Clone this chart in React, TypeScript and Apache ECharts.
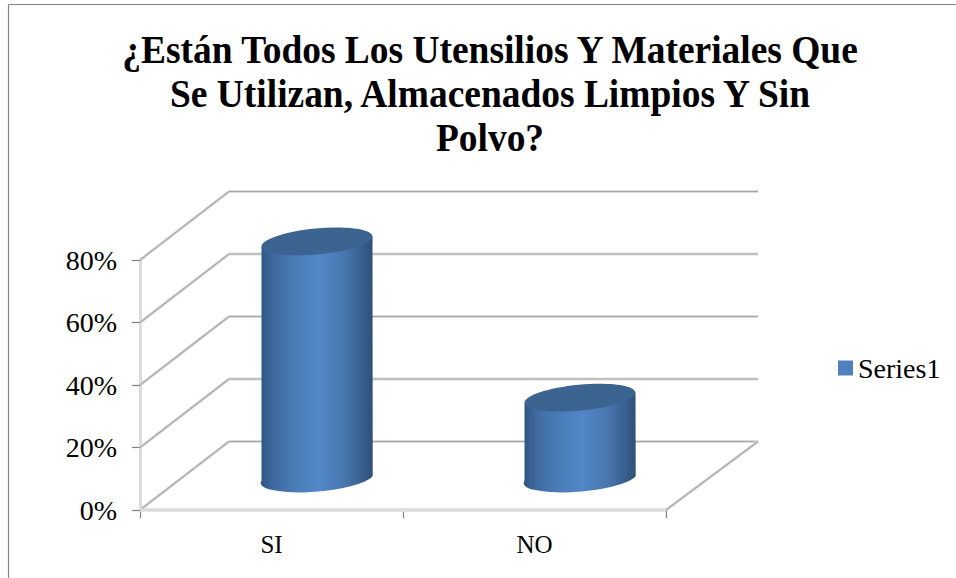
import React, { useEffect, useRef } from "react";
import * as echarts from "echarts";

const titleLines = ["¿Están Todos Los Utensilios Y Materiales Que", "Se Utilizan, Almacenados Limpios Y Sin", "Polvo?"];
const categories = ["SI", "NO"];
const seriesName = "Series1";
const seriesValues = [75, 25];
const yTicks = [0, 20, 40, 60, 80];

const DEPTH_LEFT = 89;
const DEPTH_RIGHT = 92;
const DEPTH_Y = 68.5;
const LIGHT = "#dcdcdc";
const DARK = "#a6a6a6";

function doubleLine(x1: number, y1: number, x2: number, y2: number) {
  const shape = { x1, y1, x2, y2 };
  return [
    { type: "line", shape, style: { stroke: LIGHT, lineWidth: 3, fill: null } },
    { type: "line", shape, style: { stroke: DARK, lineWidth: 1.1, fill: null } },
  ];
}

function renderWall(params: any, api: any) {
  const v = api.value(0);
  const grid = params.coordSys;
  const left = grid.x;
  const right = grid.x + grid.width;
  const y = api.coord([0, v])[1];
  const children: any[] = [
    ...doubleLine(left, y, left + DEPTH_LEFT, y - DEPTH_Y),
    ...doubleLine(left + DEPTH_LEFT, y - DEPTH_Y, right + DEPTH_RIGHT, y - DEPTH_Y),
  ];
  if (v === 0) {
    children.push(...doubleLine(right, y, right + DEPTH_RIGHT, y - DEPTH_Y));
    children.push({ type: "line", shape: { x1: left, y1: y, x2: right, y2: y }, style: { stroke: LIGHT, lineWidth: 3.5, fill: null } });
  }
  return { type: "group", children };
}

function renderCylinder(_params: any, api: any) {
  const base = api.coord([api.value(0), 0]);
  const top = api.coord([api.value(0), api.value(1)]);
  const band = api.size([1, 0])[0];
  const halfW = band * 0.211;
  const cx = base[0] + 45.5;
  const topY = top[1] - DEPTH_Y / 2;
  const botY = base[1] - DEPTH_Y / 2;
  const a = halfW + 0.2;
  const b = 13;
  const tiltDeg = 5.45;
  const dy = 5;
  const d =
    `M ${cx - halfW} ${topY + dy} L ${cx - halfW} ${botY + dy} ` +
    `A ${a} ${b} ${-tiltDeg} 0 0 ${cx + halfW} ${botY - dy} ` +
    `L ${cx + halfW} ${topY - dy} Z`;
  const gradient = new echarts.graphic.LinearGradient(0, 0, 1, 0, [
    { offset: 0, color: "#2f5482" },
    { offset: 0.12, color: "#3f6ba0" },
    { offset: 0.3, color: "#4a7bb6" },
    { offset: 0.52, color: "#5287c9" },
    { offset: 0.75, color: "#4876ae" },
    { offset: 0.92, color: "#375d8b" },
    { offset: 1, color: "#2e4f78" },
  ]);
  return {
    type: "group",
    children: [
      { type: "path", shape: { pathData: d }, style: { fill: gradient } },
      {
        type: "ellipse",
        x: cx,
        y: topY,
        rotation: (tiltDeg * Math.PI) / 180,
        shape: { cx: 0, cy: 0, rx: a, ry: b },
        style: { fill: "#3c6491" },
      },
    ],
  };
}

export default function App() {
  const ref = useRef<HTMLDivElement>(null);
  useEffect(() => {
    const chart = echarts.init(ref.current!, null, { renderer: "svg" });
    chart.setOption({
      animation: false,
      backgroundColor: "#ffffff",
      legend: {
        data: [seriesName],
        left: 833,
        top: 349,
        itemWidth: 15,
        itemHeight: 15,
        icon: "rect",
        textStyle: { fontFamily: "Liberation Serif", fontSize: 28, color: "#000000" },
      },
      grid: { left: 140, right: 290, top: 260, bottom: 68 },
      xAxis: {
        type: "category",
        data: categories,
        axisLine: { show: false },
        axisTick: { show: true, alignWithLabel: false, length: 8, lineStyle: { color: "#808080", width: 1.2 } },
        axisLabel: { margin: 22, fontFamily: "Liberation Serif", fontSize: 25, color: "#000000" },
        splitLine: { show: false },
      },
      yAxis: {
        type: "value",
        min: 0,
        max: 80,
        interval: 20,
        axisLine: { show: true, lineStyle: { color: LIGHT, width: 3 } },
        axisTick: { show: true, length: 8, lineStyle: { color: "#808080", width: 1.2 } },
        axisLabel: { margin: 23, formatter: "{value}%", fontFamily: "Liberation Serif", fontSize: 28, color: "#000000" },
        splitLine: { show: false },
      },
      graphic: [
        { type: "line", shape: { x1: 8.5, y1: 4.5, x2: 956, y2: 4.5 }, style: { stroke: "#868686", lineWidth: 1.2 } },
        { type: "line", shape: { x1: 8.5, y1: 4.5, x2: 8.5, y2: 578 }, style: { stroke: "#868686", lineWidth: 1.2 } },
        {
          type: "text",
          x: 490,
          y: 27,
          scaleX: 0.936,
          style: {
            text: titleLines.join("\n"),
            fontFamily: "Liberation Serif",
            fontWeight: "bold",
            fontSize: 40,
            lineHeight: 44,
            fill: "#000000",
            align: "center",
            verticalAlign: "top",
          },
        },
      ],
      series: [
        {
          name: "walls",
          type: "custom",
          renderItem: renderWall,
          data: yTicks.map((t) => [t]),
          encode: { y: 0 },
          silent: true,
          z: 1,
        },
        {
          name: seriesName,
          type: "custom",
          renderItem: renderCylinder,
          itemStyle: { color: "#4f81bd" },
          data: seriesValues.map((v, i) => [i, v]),
          encode: { x: 0, y: 1 },
          z: 3,
        },
      ],
    });
    return () => chart.dispose();
  }, []);
  return (
    <div
      ref={ref}
      style={{ position: "fixed", left: 0, top: 0, width: 956, height: 578, background: "#fff" }}
    />
  );
}
